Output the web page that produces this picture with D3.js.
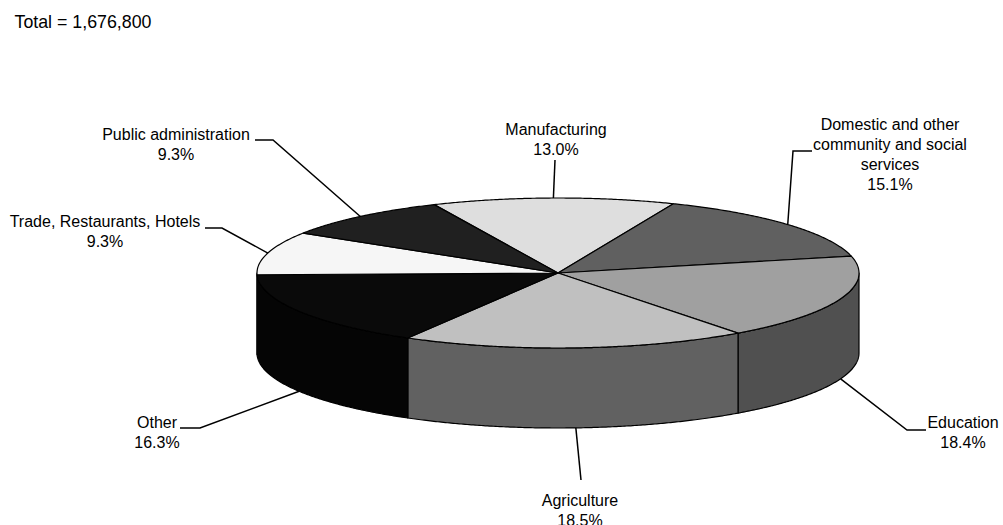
<!DOCTYPE html>
<html>
<head>
<meta charset="utf-8">
<script src="https://cdn.jsdelivr.net/npm/d3@7"></script>
<style>
  html, body { margin: 0; padding: 0; background: #fff; }
  svg { display: block; font-family: Arial, "Liberation Sans", sans-serif; }
</style>
</head>
<body>
<svg id="chart" width="1003" height="525"></svg>
<script>
// Employment by sector, share of total
const totalLabel = "Total = 1,676,800";
const categories = [
  "Manufacturing",
  "Domestic and other community and social services",
  "Education",
  "Agriculture",
  "Other",
  "Trade, Restaurants, Hotels",
  "Public administration"
];
const shares = [13.0, 15.1, 18.4, 18.5, 16.3, 9.3, 9.3];
const labelLines = [
  ["Manufacturing"],
  ["Domestic and other", "community and social", "services"],
  ["Education"],
  ["Agriculture"],
  ["Other"],
  ["Trade, Restaurants, Hotels"],
  ["Public administration"]
];

// Grey shades for the top faces and the (darker) side walls
const topFill  = ["#dedede", "#606060", "#a0a0a0", "#c0c0c0", "#0a0a0a", "#f6f6f6", "#202020"];
const sideFill = ["#6f6f6f", "#303030", "#505050", "#616161", "#050505", "#7b7b7b", "#101010"];

// Label placement: text centre x, first baseline y, leader waypoints after the anchor
const labelLayout = [
  { x: 556, y: 135, path: [[555, 160]] },
  { x: 890, y: 130, path: [[793, 151], [812, 151]] },
  { x: 963, y: 428, path: [[907, 430], [926, 430]] },
  { x: 580, y: 506, path: [[581, 480]] },
  { x: 157, y: 428, path: [[200, 428], [180, 428]] },
  { x: 105, y: 227, path: [[222, 228], [205, 228]] },
  { x: 176, y: 140, path: [[273, 140], [255, 140]] }
];

const svg = d3.select("#chart");
const cx = 558, cy = 273, rx = 301, ry = 75, depth = 80;
const lineGap = 20;

const pie = d3.pie()
  .sort(null)
  .value(d => d)
  .startAngle(-24.3 * Math.PI / 180)
  .endAngle(-24.3 * Math.PI / 180 + 2 * Math.PI);
const arcs = pie(shares);

// Point on the tilted disc: angle measured clockwise from 12 o'clock
const pt = (a, dz = 0) => [cx + rx * Math.sin(a), cy - ry * Math.cos(a) + dz];
const sample = (a0, a1) => {
  const n = Math.max(2, Math.ceil(Math.abs(a1 - a0) / (0.4 * Math.PI / 180)));
  return d3.range(n + 1).map(i => a0 + (a1 - a0) * i / n);
};
const line = d3.line();

// Side walls (front half only)
const front0 = Math.PI / 2, front1 = 3 * Math.PI / 2;
const walls = svg.append("g");
arcs.forEach((d, i) => {
  const s = Math.max(d.startAngle, front0), e = Math.min(d.endAngle, front1);
  if (s >= e) return;
  const top = sample(s, e).map(a => pt(a));
  const bot = sample(e, s).map(a => pt(a, depth));
  walls.append("path")
    .attr("d", line(top.concat(bot)) + "Z")
    .attr("fill", sideFill[i])
    .attr("stroke", "#000")
    .attr("stroke-width", 1.2)
    .attr("stroke-linejoin", "round");
});

// Top faces
const tops = svg.append("g");
arcs.forEach((d, i) => {
  const pts = [[cx, cy]].concat(sample(d.startAngle, d.endAngle).map(a => pt(a)));
  tops.append("path")
    .attr("d", line(pts) + "Z")
    .attr("fill", topFill[i])
    .attr("stroke", "#000")
    .attr("stroke-width", 1.2)
    .attr("stroke-linejoin", "round");
});

// Leader lines: anchored at the rim (bottom rim for front slices)
const leaders = svg.append("g");
arcs.forEach((d, i) => {
  const mid = (d.startAngle + d.endAngle) / 2;
  const anchor = pt(mid, Math.cos(mid) < 0 ? depth : 0);
  leaders.append("path")
    .attr("d", line([anchor].concat(labelLayout[i].path)))
    .attr("fill", "none")
    .attr("stroke", "#000")
    .attr("stroke-width", 1.5);
});

// Category labels with percentage
const labels = svg.append("g")
  .attr("font-size", 16)
  .attr("fill", "#000")
  .attr("text-anchor", "middle");
arcs.forEach((d, i) => {
  const L = labelLayout[i];
  const lines = labelLines[i].concat([shares[i].toFixed(1) + "%"]);
  const t = labels.append("text");
  lines.forEach((s, k) => {
    t.append("tspan").attr("x", L.x).attr("y", L.y + k * lineGap).text(s);
  });
});

// Total
svg.append("text")
  .attr("x", 14.5)
  .attr("y", 28)
  .attr("font-size", 17.8)
  .attr("fill", "#000")
  .text(totalLabel);
</script>
</body>
</html>
